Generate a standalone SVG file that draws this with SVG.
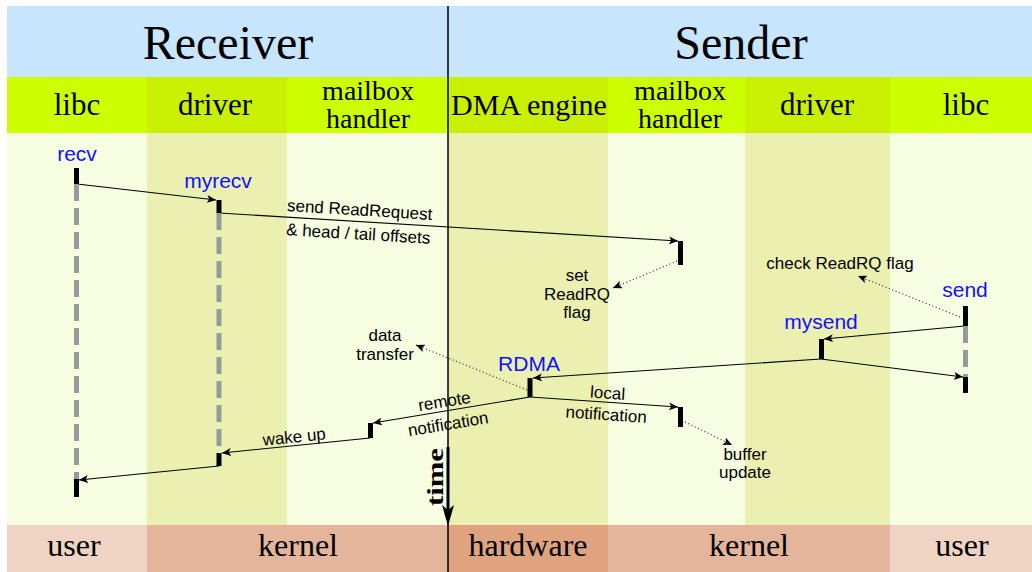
<svg xmlns="http://www.w3.org/2000/svg" width="1032" height="572" viewBox="0 0 1032 572">
  <style>
    .hdr { font-family: "Liberation Serif", "Times New Roman", serif; fill: #000; text-anchor: middle; }
    .lbl { font-family: "Liberation Sans", Arial, sans-serif; font-size: 17px; fill: #000; text-anchor: middle; }
    .fn { font-family: "Liberation Sans", Arial, sans-serif; font-size: 21px; fill: #1010ff; text-anchor: middle; }
    .msg { stroke: #000; stroke-width: 1.1; fill: none; marker-end: url(#arr); }
    .dot { stroke: #222; stroke-width: 1.1; stroke-dasharray: 1 2.6; fill: none; marker-end: url(#arr); }
    .act { stroke: #000; stroke-width: 5; fill: none; }
    .life { stroke: #999; stroke-width: 5; stroke-dasharray: 17 7; fill: none; }
  </style>
  <defs>
    <marker id="arr" markerUnits="userSpaceOnUse" viewBox="0 0 9 8" markerWidth="9" markerHeight="8" refX="9" refY="4" orient="auto">
      <path d="M0,0 L9,4 L0,8 L2.2,4 Z" fill="#000"/>
    </marker>
  </defs>

  <!-- background bands -->
  <g id="bands">
    <rect x="0" y="0" width="1032" height="572" fill="#fff"/>
    <rect x="7" y="6" width="1025" height="71" fill="#c7e5fc"/>
    <rect x="7" y="77" width="1025" height="56" fill="#ccff00"/>
    <rect x="147" y="77" width="140" height="56" fill="#c9f000"/>
    <rect x="448" y="77" width="160" height="56" fill="#c9f000"/>
    <rect x="745" y="77" width="145" height="56" fill="#c9f000"/>
    <rect x="7" y="133" width="1025" height="392" fill="#f6fde1"/>
    <rect x="147" y="133" width="140" height="392" fill="#ebf0b1"/>
    <rect x="448" y="133" width="160" height="392" fill="#ebf0b1"/>
    <rect x="745" y="133" width="145" height="392" fill="#ebf0b1"/>
    <rect x="7" y="525" width="140" height="47" fill="#efd4c4"/>
    <rect x="147" y="525" width="301" height="47" fill="#e4b59b"/>
    <rect x="448" y="525" width="160" height="47" fill="#dfa47f"/>
    <rect x="608" y="525" width="282" height="47" fill="#e4b59b"/>
    <rect x="890" y="525" width="142" height="47" fill="#efd4c4"/>
  </g>

  <!-- side, layer and domain titles -->
  <g id="titles">
    <text class="hdr" x="228" y="59" font-size="48">Receiver</text>
    <text class="hdr" x="741" y="59" font-size="48">Sender</text>
    <text class="hdr" x="77" y="115" font-size="31">libc</text>
    <text class="hdr" x="215" y="115" font-size="31">driver</text>
    <text class="hdr" x="368" y="100" font-size="28">mailbox</text>
    <text class="hdr" x="368" y="128" font-size="28">handler</text>
    <text class="hdr" x="529" y="115" font-size="30">DMA engine</text>
    <text class="hdr" x="680" y="100" font-size="28">mailbox</text>
    <text class="hdr" x="680" y="128" font-size="28">handler</text>
    <text class="hdr" x="817" y="115" font-size="31">driver</text>
    <text class="hdr" x="966" y="115" font-size="31">libc</text>
    <text class="hdr" x="74" y="556" font-size="32">user</text>
    <text class="hdr" x="298" y="556" font-size="32">kernel</text>
    <text class="hdr" x="528" y="556" font-size="32">hardware</text>
    <text class="hdr" x="749" y="556" font-size="32">kernel</text>
    <text class="hdr" x="962" y="556" font-size="32">user</text>
  </g>

  <!-- divider between the two machines, with the time axis -->
  <g id="time-axis">
    <line x1="448" y1="6" x2="448" y2="572" stroke="#000" stroke-width="1.5"/>
    <line x1="448" y1="447" x2="448" y2="511" stroke="#000" stroke-width="3"/>
    <polygon points="448,526 442,505 448,510 454,505" fill="#000"/>
    <text class="hdr" transform="translate(443,477) rotate(-90)" font-size="24" font-weight="bold" textLength="58" lengthAdjust="spacingAndGlyphs">time</text>
  </g>

  <!-- messages -->
  <g id="connectors">
    <line class="msg" x1="77" y1="184" x2="216" y2="200"/>
    <line class="msg" x1="219" y1="213" x2="678" y2="241"/>
    <line class="msg" x1="965" y1="326" x2="824" y2="339"/>
    <line class="msg" x1="821" y1="359" x2="963" y2="377"/>
    <line class="msg" x1="821" y1="359" x2="533" y2="378"/>
    <line class="msg" x1="530" y1="397" x2="678" y2="407"/>
    <line class="msg" x1="530" y1="397" x2="373" y2="423"/>
    <line class="msg" x1="370" y1="438" x2="222" y2="453"/>
    <line class="msg" x1="219" y1="466" x2="79" y2="480"/>
    <line class="dot" x1="677" y1="261" x2="613" y2="288"/>
    <line class="dot" x1="960" y1="317" x2="858" y2="276"/>
    <line class="dot" x1="527" y1="390" x2="416" y2="345"/>
    <line class="dot" x1="685" y1="422" x2="732" y2="445"/>

    <text class="lbl" transform="translate(359,221.5) rotate(3.49)"><tspan x="0" y="-6">send ReadRequest</tspan><tspan x="0" y="18">&amp; head / tail offsets</tspan></text>
    <text class="lbl" transform="translate(607,402.2) rotate(3.87)"><tspan x="0" y="-3.5">local</tspan><tspan x="0" y="18">notification</tspan></text>
    <text class="lbl" transform="translate(446,410.9) rotate(-9.4)"><tspan x="0" y="-4">remote</tspan><tspan x="0" y="19">notification</tspan></text>
    <text class="lbl" transform="translate(295,445.6) rotate(-5.8)" x="0" y="-3">wake up</text>

    <text class="lbl" x="577"><tspan x="577" y="281">set</tspan><tspan x="577" y="300">ReadRQ</tspan><tspan x="577" y="318">flag</tspan></text>
    <text class="lbl" x="840" y="269">check ReadRQ flag</text>
    <text class="lbl"><tspan x="385" y="341">data</tspan><tspan x="385" y="360">transfer</tspan></text>
    <text class="lbl"><tspan x="745" y="460">buffer</tspan><tspan x="745" y="478">update</tspan></text>
  </g>

  <!-- calls and their activations -->
  <g id="recv">
    <text class="fn" x="77" y="161">recv</text>
    <line class="life" x1="76.5" y1="184" x2="76.5" y2="479"/>
    <line class="act" x1="76.5" y1="168" x2="76.5" y2="184"/>
    <line class="act" x1="76.5" y1="479" x2="76.5" y2="497"/>
  </g>
  <g id="myrecv">
    <text class="fn" x="218" y="188">myrecv</text>
    <line class="life" x1="219" y1="213" x2="219" y2="453"/>
    <line class="act" x1="219" y1="200" x2="219" y2="213"/>
    <line class="act" x1="219" y1="453" x2="219" y2="466"/>
  </g>
  <g id="mailbox-receiver">
    <line class="act" x1="370.5" y1="423" x2="370.5" y2="438"/>
  </g>
  <g id="rdma">
    <text class="fn" x="529" y="371" font-size="23">RDMA</text>
    <line class="act" x1="530" y1="378" x2="530" y2="397"/>
  </g>
  <g id="mailbox-sender">
    <line class="act" x1="680.5" y1="241" x2="680.5" y2="265"/>
    <line class="act" x1="680.5" y1="407" x2="680.5" y2="427"/>
  </g>
  <g id="mysend">
    <text class="fn" x="821" y="329">mysend</text>
    <line class="act" x1="821.5" y1="339" x2="821.5" y2="359"/>
  </g>
  <g id="send">
    <text class="fn" x="965" y="297">send</text>
    <line class="life" x1="965.5" y1="326" x2="965.5" y2="377"/>
    <line class="act" x1="965.5" y1="306" x2="965.5" y2="326"/>
    <line class="act" x1="965.5" y1="377" x2="965.5" y2="393"/>
  </g>
</svg>
